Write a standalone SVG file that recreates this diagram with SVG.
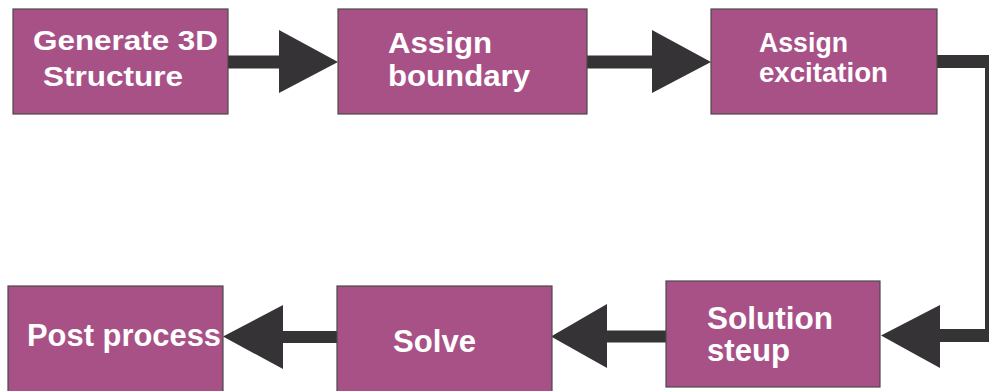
<svg xmlns="http://www.w3.org/2000/svg" width="989" height="391" viewBox="0 0 989 391">
<style>
.box{fill:#a85187;stroke:#4a4a4a;stroke-width:1.2}
.t{font-family:"Liberation Sans",Arial,sans-serif;font-weight:bold;fill:#ffffff}
.c{fill:#353335}
</style>
<rect width="989" height="391" fill="#ffffff"/>
<g id="connectors">
<rect class="c" x="228" y="55.5" width="53" height="13"/>
<polygon class="c" points="279,30 338,62 279,93"/>
<rect class="c" x="587" y="55.5" width="66" height="13"/>
<polygon class="c" points="652,30 711,62 652,93"/>
<path class="c" d="M937,55 H989 V342 H939 V329 H985 V68 H937 Z"/>
<polygon class="c" points="940,305 881,335.5 940,368"/>
<rect class="c" x="606" y="330.5" width="60" height="12"/>
<polygon class="c" points="607,304 551,336.5 607,368"/>
<rect class="c" x="282" y="331" width="55" height="12"/>
<polygon class="c" points="283,305 223,336.5 283,369"/>
</g>
<g id="n1">
<rect class="box" x="13" y="9" width="215" height="105"/>
<text class="t" x="33" y="50" font-size="28.5" textLength="185" lengthAdjust="spacingAndGlyphs">Generate 3D</text>
<text class="t" x="43" y="85.5" font-size="28.5" textLength="140" lengthAdjust="spacingAndGlyphs">Structure</text>
</g>
<g id="n2">
<rect class="box" x="338" y="9" width="249" height="105"/>
<text class="t" x="388" y="53" font-size="29.5" textLength="104" lengthAdjust="spacingAndGlyphs">Assign</text>
<text class="t" x="388" y="86" font-size="29.5" textLength="142" lengthAdjust="spacingAndGlyphs">boundary</text>
</g>
<g id="n3">
<rect class="box" x="711" y="9" width="226" height="105"/>
<text class="t" x="759" y="52" font-size="27" textLength="89" lengthAdjust="spacingAndGlyphs">Assign</text>
<text class="t" x="759" y="82" font-size="27" textLength="129" lengthAdjust="spacingAndGlyphs">excitation</text>
</g>
<g id="n4">
<rect class="box" x="666" y="281" width="214" height="106"/>
<text class="t" x="707" y="329" font-size="31" textLength="126" lengthAdjust="spacingAndGlyphs">Solution</text>
<text class="t" x="707" y="361" font-size="31" textLength="83" lengthAdjust="spacingAndGlyphs">steup</text>
</g>
<g id="n5">
<rect class="box" x="337" y="286" width="215" height="110"/>
<text class="t" x="393" y="352" font-size="31" textLength="83" lengthAdjust="spacingAndGlyphs">Solve</text>
</g>
<g id="n6">
<rect class="box" x="8" y="286" width="215" height="110"/>
<text class="t" x="27" y="346" font-size="31" textLength="194" lengthAdjust="spacingAndGlyphs">Post process</text>
</g>
</svg>
